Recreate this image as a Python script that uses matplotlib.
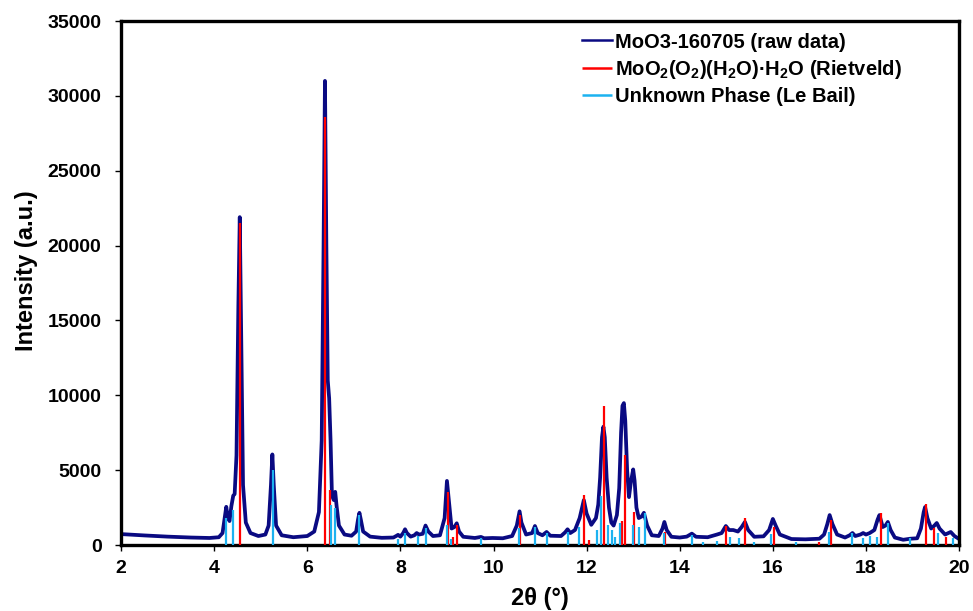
import matplotlib
matplotlib.use('Agg')
import matplotlib.pyplot as plt

# --- Data ---
# raw pattern, traced point by point (2theta in degrees, intensity in a.u.)
raw_2theta = [
    2.0, 2.5, 3.0, 3.5, 3.9, 4.1, 4.18, 4.23, 4.26, 4.29, 4.33, 4.37, 4.41, 4.44,
    4.48, 4.52, 4.55, 4.58, 4.62, 4.68, 4.78, 4.95, 5.1, 5.17, 5.22, 5.25, 5.28,
    5.33, 5.45, 5.7, 6.0, 6.15, 6.25, 6.31, 6.35, 6.38, 6.41, 6.44, 6.47, 6.5,
    6.53, 6.57, 6.6, 6.63, 6.68, 6.8, 6.95, 7.05, 7.09, 7.12, 7.15, 7.2, 7.35,
    7.6, 7.85, 7.92, 7.95, 8.0, 8.06, 8.1, 8.14, 8.22, 8.3, 8.35, 8.4, 8.48, 8.54,
    8.6, 8.7, 8.85, 8.95, 9.0, 9.04, 9.1, 9.16, 9.21, 9.26, 9.35, 9.6, 9.73, 9.8,
    9.98, 10.2, 10.4, 10.5, 10.56, 10.6, 10.7, 10.83, 10.89, 10.95, 11.05, 11.14,
    11.22, 11.45, 11.54, 11.59, 11.65, 11.75, 11.85, 11.94, 12.0, 12.1, 12.2,
    12.25, 12.29, 12.33, 12.36, 12.39, 12.43, 12.48, 12.53, 12.58, 12.65, 12.7,
    12.74, 12.77, 12.8, 12.83, 12.87, 12.91, 12.95, 13.0, 13.03, 13.07, 13.12,
    13.18, 13.23, 13.3, 13.4,
    13.55, 13.63, 13.67, 13.72, 13.82, 14.0, 14.15, 14.26, 14.35, 14.6, 14.8,
    14.9, 14.99, 15.06, 15.15, 15.25, 15.33, 15.4, 15.47, 15.6, 15.8, 15.92,
    16.0, 16.06, 16.15, 16.4, 16.7, 17.0, 17.1, 17.17, 17.22, 17.28, 17.38,
    17.55, 17.65, 17.71, 17.77, 17.88, 17.94, 18.0, 18.08, 18.18, 18.25, 18.29,
    18.36, 18.42, 18.47, 18.53, 18.62, 18.8, 18.95, 19.1, 19.18, 19.24, 19.27,
    19.32, 19.4, 19.47, 19.52, 19.58, 19.7, 19.82, 19.9, 20.0,
]
raw_intensity = [
    730, 640, 560, 500, 470, 520, 800, 1900, 2550, 1900, 1600, 2600, 3300, 3400,
    6000, 16000, 21900, 14000, 4000, 1500, 800, 600, 700, 1300, 4000, 6050, 4000,
    1300, 650, 520, 600, 900, 2200, 7000, 20000, 31000, 20000, 11000, 9800, 7000,
    3300, 3000, 3550, 2600, 1300, 700, 620, 900, 1700, 2150, 1700, 900, 560,
    480, 500, 620, 680, 560, 800, 1050, 800, 560, 650, 800, 700, 750, 1300,
    900, 600, 650, 1800, 4280, 3000, 1100, 1200, 1450, 900, 550, 470, 540, 450,
    470, 450, 600, 1300, 2250, 1500, 700, 800, 1270, 800, 650, 870,
    620, 600, 850, 1050, 800, 1000, 1800, 3000, 2100, 1350, 1800,
    2700, 4500, 7200, 7900, 7200, 4500, 2500, 1500, 1300, 2000, 3800,
    7500, 9300, 9480, 8300, 5000, 3200, 4200, 5050, 4300, 2500, 1800,
    1900, 2150, 1300, 650,
    600, 1100, 1540, 1000, 550, 500, 560, 760, 550, 520, 700,
    800, 1270, 1000, 1000, 900, 1200, 1540, 1000, 550, 580, 1000,
    1740, 1300, 700, 400, 380, 420, 700, 1400, 2000, 1400, 700,
    500, 650, 800, 600, 700, 800, 700, 800, 1000, 1700, 2000,
    1200, 1300, 1540, 1000, 500, 350, 420, 450, 1100, 2200, 2540,
    1800, 1100, 1300, 1470, 1100, 700, 870, 600, 400,
]

# MoO2(O2)(H2O).H2O reflections (Rietveld)
rietveld_2theta = [4.555, 6.38, 6.49, 9.03, 9.12, 9.21, 10.57, 11.94, 12.05, 12.38,
                   12.75, 12.82, 13.02, 13.68, 14.99, 15.41, 16.02, 16.99, 17.24,
                   18.32, 19.28, 19.47, 19.72]
rietveld_intensity = [21500, 28600, 3670, 3540, 530, 1340, 2000, 3340, 330, 9290,
                      1600, 6010, 2200, 870, 1270, 1800, 1200, 200, 1670,
                      2140, 2740, 1130, 530]

# unknown phase reflections (Le Bail)
lebail_2theta = [4.255, 4.41, 5.258, 6.51, 6.6, 7.11, 7.95, 8.1, 8.37, 8.54, 9.0,
                 9.09, 9.73, 10.55, 10.89, 11.14, 11.59, 11.84, 12.22, 12.3, 12.46,
                 12.55, 12.61, 12.72, 12.99, 13.13, 13.25, 13.66, 14.27, 14.5, 14.8,
                 15.08, 15.28, 15.6, 15.95, 16.5, 17.2, 17.71, 17.94, 18.08, 18.23,
                 18.47, 18.95, 19.54, 19.86]
lebail_intensity = [1800, 2340, 5000, 2670, 2470, 2000, 400, 800, 600, 1130, 1340,
                    400, 450, 1130, 1200, 800, 900, 1200, 1000, 3270, 1340,
                    1000, 530, 1470, 1340, 1200, 2140, 800, 650, 200, 300,
                    530, 500, 200, 730, 200, 900, 800, 500, 600, 530,
                    1470, 450, 800, 500]

x_ticks = [2, 4, 6, 8, 10, 12, 14, 16, 18, 20]
y_ticks = [0, 5000, 10000, 15000, 20000, 25000, 30000, 35000]

labels = ['MoO3-160705 (raw data)',
          'MoO$_2$(O$_2$)(H$_2$O)\u00b7H$_2$O (Rietveld)',
          'Unknown Phase (Le Bail)']

# --- Style ---
plt.rcParams['font.family'] = ['Liberation Sans', 'DejaVu Sans']
plt.rcParams['font.weight'] = 'bold'
plt.rcParams['mathtext.fontset'] = 'custom'
plt.rcParams['mathtext.rm'] = 'Liberation Sans:bold'
plt.rcParams['mathtext.default'] = 'rm'

fig = plt.figure(figsize=(9.73, 6.11), dpi=100)
ax = fig.add_axes([0.1244, 0.108, 0.8613, 0.8576])

ax.plot(raw_2theta, raw_intensity, color='#0A0A82', lw=2.7, label=labels[0], zorder=2,
        solid_joinstyle='round')
ax.vlines(rietveld_2theta, 0, rietveld_intensity, colors='#FF0000', lw=1.6,
          label=labels[1], zorder=3)
ax.vlines(lebail_2theta, 0, lebail_intensity, colors='#1CB2F0', lw=1.6,
          label=labels[2], zorder=4)

ax.set_xlim(2, 20)
ax.set_ylim(0, 35000)
ax.set_xticks(x_ticks)
ax.set_yticks(y_ticks)

for s in ax.spines.values():
    s.set_linewidth(2.4)
ax.tick_params(axis='both', direction='out', length=4, width=1, labelsize=14)
ax.tick_params(axis='y', pad=10)
ax.tick_params(axis='x', pad=7)

ax.set_xlabel('2\u03b8 (\u00b0)', fontsize=17, fontweight='bold')
ax.set_ylabel('Intensity (a.u.)', fontsize=17, fontweight='bold')
ax.xaxis.set_label_coords(0.5, -0.080)
ax.yaxis.set_label_coords(-0.099, 0.523)

leg = ax.legend(loc='upper left', bbox_to_anchor=(0.55, 0.978), frameon=False,
                fontsize=14.5, handlelength=1.5, handletextpad=0.15,
                labelspacing=0.3, borderpad=0, borderaxespad=0)
# legend keys are all drawn thin in the original
for h in leg.legend_handles:
    h.set_linewidth(1.8)

fig.savefig('out.png', dpi=100)
